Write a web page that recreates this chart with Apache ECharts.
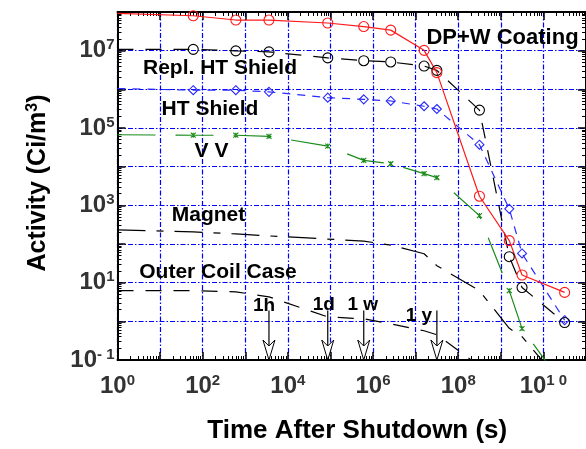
<!DOCTYPE html>
<html>
<head>
<meta charset="utf-8">
<script src="https://cdn.jsdelivr.net/npm/echarts@6/dist/echarts.min.js"></script>
<style>
  html, body { margin: 0; padding: 0; background: #fff; }
  #chart { width: 586px; height: 449px; }
</style>
</head>
<body>
<div id="chart"></div>
<script>
// Time after shutdown (s): start, 1 min, 10 min, 1 h, 1 d, 1 w, 30 d, 0.5 y, 1 y, 10 y, 50 y, 100 y, 1000 y
const times = [1, 60, 600, 3600, 86400, 604800, 2.6e6, 1.58e7, 3.15e7, 3.15e8, 1.58e9, 3.15e9, 3.15e10];

// Specific activity (Ci/m^3) of each component
const dpwCoating    = [9.25e7, 8.0e7, 6.2e7, 6.2e7, 5.2e7, 4.2e7, 3.4e7, 1.02e7, 2.7e6, 1720, 122, 15.8, 5.6];
const replHtShield  = [1.08e7, 1.08e7, 9.9e6, 9.3e6, 6.5e6, 5.5e6, 5.1e6, 4.0e6, 3.1e6, 2.9e5, 47, 7.5, 0.93];
const htShield      = [1.05e6, 9.5e5, 9.5e5, 8.6e5, 6.1e5, 5.5e5, 5.0e5, 3.65e5, 3.1e5, 3.7e4, 810, 57, 1.07];
const vacuumVessel  = [6.7e4, 6.5e4, 6.5e4, 6.1e4, 3.4e4, 1.45e4, 1.19e4, 6.6e3, 5.2e3, 543, 6.2, 0.65, 0.02];
const magnet        = [232, 206, 182, 162, 134, 119, 93.5, 56, 27.5, 6.2, 0.66, 0.40, 0.02];
const outerCoilCase = [6.2, 6.2, 5.8, 4.3, 1.3, 1.16, 0.86, 0.57, 0.45, 0.07];

// Cooling-time milestones marked with arrows
const milestoneTimes  = [3600, 86400, 604800, 3.1536e7];
const milestoneLabels = ['1h', '1d', '1 w', '1 y'];

// Labelled ticks (base 10, exponent shown as superscript)
const xTickValues    = [1e0, 1e2, 1e4, 1e6, 1e8, 1e10];
const xTickExponents = ['0', '2', '4', '6', '8', '1 0'];
const yTickValues    = [1e-1, 1e1, 1e3, 1e5, 1e7];
const yTickExponents = ['- 1', '1', '3', '5', '7'];

const FONT = "'Liberation Sans', Arial, Helvetica, sans-serif";
const X_MIN = 1, X_MAX = 1e11, Y_MIN = 0.1, Y_MAX = 1e8;
const ARROW_TOP = 1.9;                      // activity level where the milestone arrows start
const arrowLabelShift = [[-5, -5], [-4, -6], [-1, -6], [-18, 5]];

function decades(e0, e1) {
  const out = [];
  for (let e = e0; e <= e1; e++) out.push(Math.pow(10, e));
  return out;
}
function minors(e0, e1) {
  const out = [];
  for (let e = e0; e < e1; e++) for (let m = 2; m <= 9; m++) out.push(m * Math.pow(10, e));
  return out;
}
function expLabel(values, exps) {
  return function (v) {
    for (let i = 0; i < values.length; i++) {
      if (Math.abs(Math.log10(v) - Math.log10(values[i])) < 1e-6) return '{b|10}{s|' + exps[i] + '}';
    }
    return '';
  };
}
const tickRich = {
  b: { fontSize: 24, fontWeight: 'bold', color: '#333', fontFamily: FONT, lineHeight: 26 },
  s: { fontSize: 15, fontWeight: 'bold', color: '#333', fontFamily: FONT, lineHeight: 15, verticalAlign: 'top' }
};
const gridLine = { show: true, lineStyle: { color: '#0000ff', width: 1.2, type: [5, 2, 1.5, 2] } };
const frame = { show: true, onZero: false, lineStyle: { color: '#000', width: 2 } };

function logAxis(min, max, position, opts) {
  return Object.assign({
    type: 'log', logBase: 10, min: min, max: max, position: position,
    axisLine: { show: false },
    axisTick: { show: false },
    axisLabel: { show: false },
    splitLine: { show: false }
  }, opts);
}
function majorTicks(vals) {
  return { show: true, inside: true, length: 8, customValues: vals, lineStyle: { color: '#000', width: 1.5 } };
}
function minorTicks(vals) {
  return { show: true, inside: true, length: 4, customValues: vals, lineStyle: { color: '#000', width: 1 } };
}

const xMajor = decades(0, 11), xMinor = minors(0, 11);
const yMajor = decades(-1, 8), yMinor = minors(-1, 8);

function pairs(vals) {
  return vals.map((v, i) => i === 0 ? { value: [times[i], v], symbol: 'none' } : [times[i], v]);
}
function lineSeries(name, vals, color, dash, symbol, size) {
  return {
    type: 'line', name: name, data: pairs(vals), xAxisIndex: 0, yAxisIndex: 0,
    symbol: symbol, symbolSize: size, showSymbol: symbol !== 'none',
    lineStyle: { color: color, width: 1.2, type: dash },
    itemStyle: { color: 'rgba(0,0,0,0)', borderColor: color, borderWidth: 1.1 },
    emphasis: { disabled: true }, clip: true, z: 3
  };
}

const chart = echarts.init(document.getElementById('chart'), null, { renderer: 'canvas' });

chart.setOption({
  animation: false,
  backgroundColor: '#fff',
  grid: { left: 117.5, right: -1, top: 12, bottom: 88.5, containLabel: false },
  xAxis: [
    logAxis(X_MIN, X_MAX, 'bottom', {
      interval: 1,
      axisLine: frame,
      axisTick: majorTicks(xMajor),
      axisLabel: { show: true, customValues: xTickValues, formatter: expLabel(xTickValues, xTickExponents), rich: tickRich, margin: 13 },
      splitLine: gridLine,
      name: 'Time After Shutdown (s)', nameLocation: 'middle', nameGap: 58,
      nameTextStyle: { fontSize: 26, fontWeight: 'bold', color: '#000', fontFamily: FONT, padding: [0, 0, 0, 11] }
    }),
    logAxis(X_MIN, X_MAX, 'bottom', { axisTick: minorTicks(xMinor) }),
    logAxis(X_MIN, X_MAX, 'top', { axisLine: frame, axisTick: majorTicks(xMajor) }),
    logAxis(X_MIN, X_MAX, 'top', { axisTick: minorTicks(xMinor) })
  ],
  yAxis: [
    logAxis(Y_MIN, Y_MAX, 'left', {
      interval: 1,
      axisLine: frame,
      axisTick: majorTicks(yMajor),
      axisLabel: { show: true, customValues: yTickValues, formatter: expLabel(yTickValues, yTickExponents), rich: tickRich, margin: 3 },
      splitLine: gridLine,
      name: '{b|Activity (Ci/m}{s|3}{b|)}', nameLocation: 'middle', nameGap: 66, nameRotate: 90,
      nameTextStyle: {
        padding: [0, 0, 0, 6],
        rich: {
          b: { fontSize: 25, fontWeight: 'bold', color: '#000', fontFamily: FONT, lineHeight: 27 },
          s: { fontSize: 16, fontWeight: 'bold', color: '#000', fontFamily: FONT, lineHeight: 16, verticalAlign: 'top' }
        }
      }
    }),
    logAxis(Y_MIN, Y_MAX, 'left', { axisTick: minorTicks(yMinor) }),
    logAxis(Y_MIN, Y_MAX, 'right', { axisLine: frame, axisTick: majorTicks(yMajor) }),
    logAxis(Y_MIN, Y_MAX, 'right', { axisTick: minorTicks(yMinor) })
  ],
  series: [
    lineSeries('Outer Coil Case', outerCoilCase, '#000', [16, 12], 'none', 0),
    lineSeries('Magnet', magnet, '#000', [28, 11, 7, 11], 'none', 0),
    lineSeries('V V', vacuumVessel, '#1a8a1a', [38, 20], 'path://M0,0L10,10M10,0L0,10M5,0L5,10', 5),
    lineSeries('HT Shield', htShield, '#2a2aff', [8, 7], 'diamond', 9),
    lineSeries('Repl. HT Shield', replHtShield, '#000', [16, 12], 'circle', 10),
    lineSeries('DP+W Coating', dpwCoating, '#ff1a1a', 'solid', 'circle', 10),
    {
      type: 'custom', name: 'milestones', xAxisIndex: 0, yAxisIndex: 0,
      data: milestoneTimes.map(t => [t, ARROW_TOP]),
      encode: { x: 0, y: 1 },
      z: 5,
      renderItem: function (params, api) {
        const t = api.value(0);
        const top = api.coord([t, ARROW_TOP]);
        const tip = api.coord([t, Y_MIN]);
        const x = tip[0], head = 20, half = 6;
        const sh = arrowLabelShift[params.dataIndex];
        return {
          type: 'group',
          children: [
            { type: 'line', shape: { x1: top[0], y1: top[1], x2: x, y2: tip[1] - head + 6 },
              style: { stroke: '#000', lineWidth: 1.2 } },
            { type: 'polygon',
              shape: { points: [[x - half, tip[1] - head], [x, tip[1] - head + 6], [x + half, tip[1] - head], [x, tip[1]]] },
              style: { fill: '#fff', stroke: '#000', lineWidth: 1 } },
            { type: 'text', x: top[0] + sh[0], y: top[1] + sh[1],
              style: { text: milestoneLabels[params.dataIndex], fill: '#000', font: 'bold 19px ' + FONT,
                       align: 'center', verticalAlign: 'middle' } }
          ]
        };
      }
    }
  ],
  graphic: [
    ['DP+W Coating', 502.5, 38, 22],
    ['Repl. HT Shield', 220, 68, 21],
    ['HT Shield', 210, 109, 21],
    ['V V', 211.5, 151, 21],
    ['Magnet', 208.5, 215, 21],
    ['Outer Coil Case', 218, 272.7, 21]
  ].map(([text, x, y, size]) => ({
    type: 'text', x: x, y: y, z: 10,
    style: { text: text, fill: '#000', font: 'bold ' + size + 'px ' + FONT, align: 'center', verticalAlign: 'middle' }
  }))
});
</script>
</body>
</html>
